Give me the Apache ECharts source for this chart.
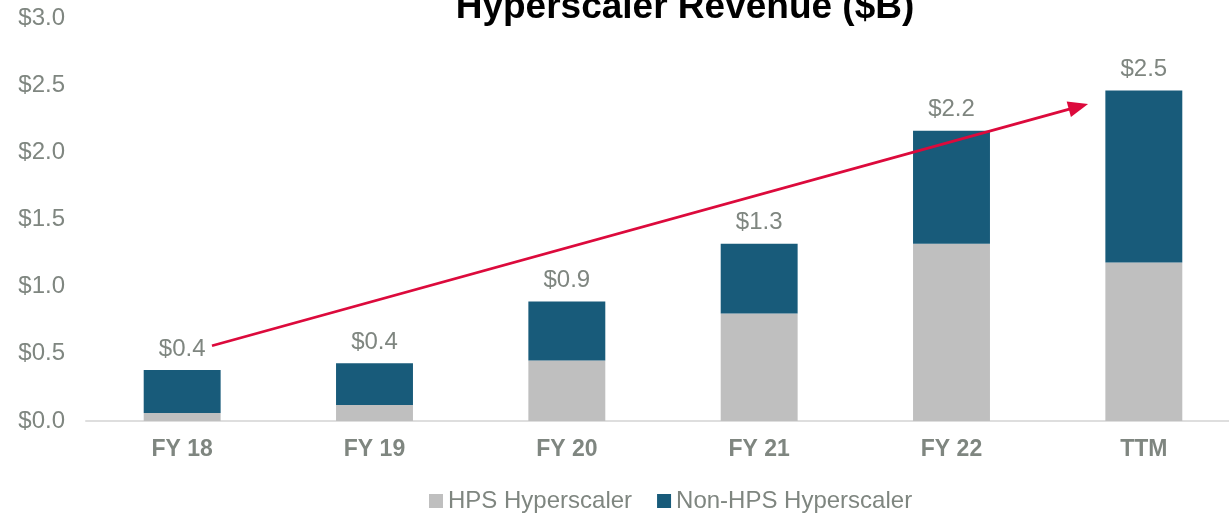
<!DOCTYPE html>
<html><head><meta charset="utf-8">
<script src="https://cdn.jsdelivr.net/npm/echarts@6/dist/echarts.min.js"></script>
<style>html,body{margin:0;padding:0;background:#fff;overflow:hidden}#c{width:1240px;height:515px}</style>
</head><body><div id="c"></div>
<script>
const categories = ['FY 18', 'FY 19', 'FY 20', 'FY 21', 'FY 22', 'TTM'];
const hpsHyperscaler = [0.06, 0.12, 0.45, 0.80, 1.32, 1.18];
const nonHpsHyperscaler = [0.32, 0.31, 0.44, 0.52, 0.84, 1.28];
const seriesNames = ['HPS Hyperscaler', 'Non-HPS Hyperscaler'];
const yTicks = [0, 0.5, 1.0, 1.5, 2.0, 2.5, 3.0];
const titleText = 'Hyperscaler Revenue ($B)';
// trend arrow, in data space: [category position, $B]
const trendArrow = [[0.155, 0.56], [4.66, 2.34]];

const totals = hpsHyperscaler.map((v, i) => v + nonHpsHyperscaler[i]);
const gray = '#7f8680';
const font = 'Liberation Sans, Arial, sans-serif';

const chart = echarts.init(document.getElementById('c'), null, { renderer: 'canvas' });
chart.setOption({
  animation: false,
  backgroundColor: '#fff',
  graphic: [{
    type: 'text', x: 685, y: 8, z: 10,
    style: { text: titleText, fill: '#000', font: 'bold 37px ' + font, textAlign: 'center', textVerticalAlign: 'middle' }
  }],
  legend: {
    left: 429, top: 489, padding: 0, icon: 'rect', itemWidth: 14, itemHeight: 14, itemGap: 25,
    data: seriesNames,
    textStyle: { color: gray, fontSize: 24, fontFamily: font }
  },
  grid: { left: 86, top: 18, right: 0, height: 403, containLabel: false },
  xAxis: [{
    type: 'category', data: categories,
    axisLine: { lineStyle: { color: '#dedede', width: 2 } },
    axisTick: { show: false },
    axisLabel: { color: gray, fontSize: 23, fontWeight: 'bold', fontFamily: font, margin: 17 }
  }, {
    type: 'value', min: -0.5, max: 5.5, show: false
  }],
  yAxis: {
    type: 'value', min: yTicks[0], max: yTicks[yTicks.length - 1], interval: 0.5,
    axisLine: { show: false }, axisTick: { show: false }, splitLine: { show: false },
    axisLabel: { color: gray, fontSize: 24, fontFamily: font, margin: 21, formatter: v => '$' + v.toFixed(1) }
  },
  series: [{
    name: seriesNames[0], type: 'bar', stack: 'total', data: hpsHyperscaler,
    barWidth: '40%', itemStyle: { color: '#bfbfbf' }
  }, {
    name: seriesNames[1], type: 'bar', stack: 'total', data: nonHpsHyperscaler,
    barWidth: '40%', itemStyle: { color: '#185b7a' },
    label: {
      show: true, position: 'top', distance: 9, color: gray, fontSize: 24, fontFamily: font,
      formatter: p => '$' + totals[p.dataIndex].toFixed(1)
    }
  }, {
    type: 'line', xAxisIndex: 1, yAxisIndex: 0, data: [], silent: true,
    markLine: {
      silent: true, symbol: ['none', 'triangle'], symbolSize: [16, 20],
      label: { show: false },
      lineStyle: { color: '#dc0a3c', width: 2.8, type: 'solid' },
      data: [[{ coord: trendArrow[0] }, { coord: trendArrow[1] }]]
    }
  }]
});
</script>
</body></html>
